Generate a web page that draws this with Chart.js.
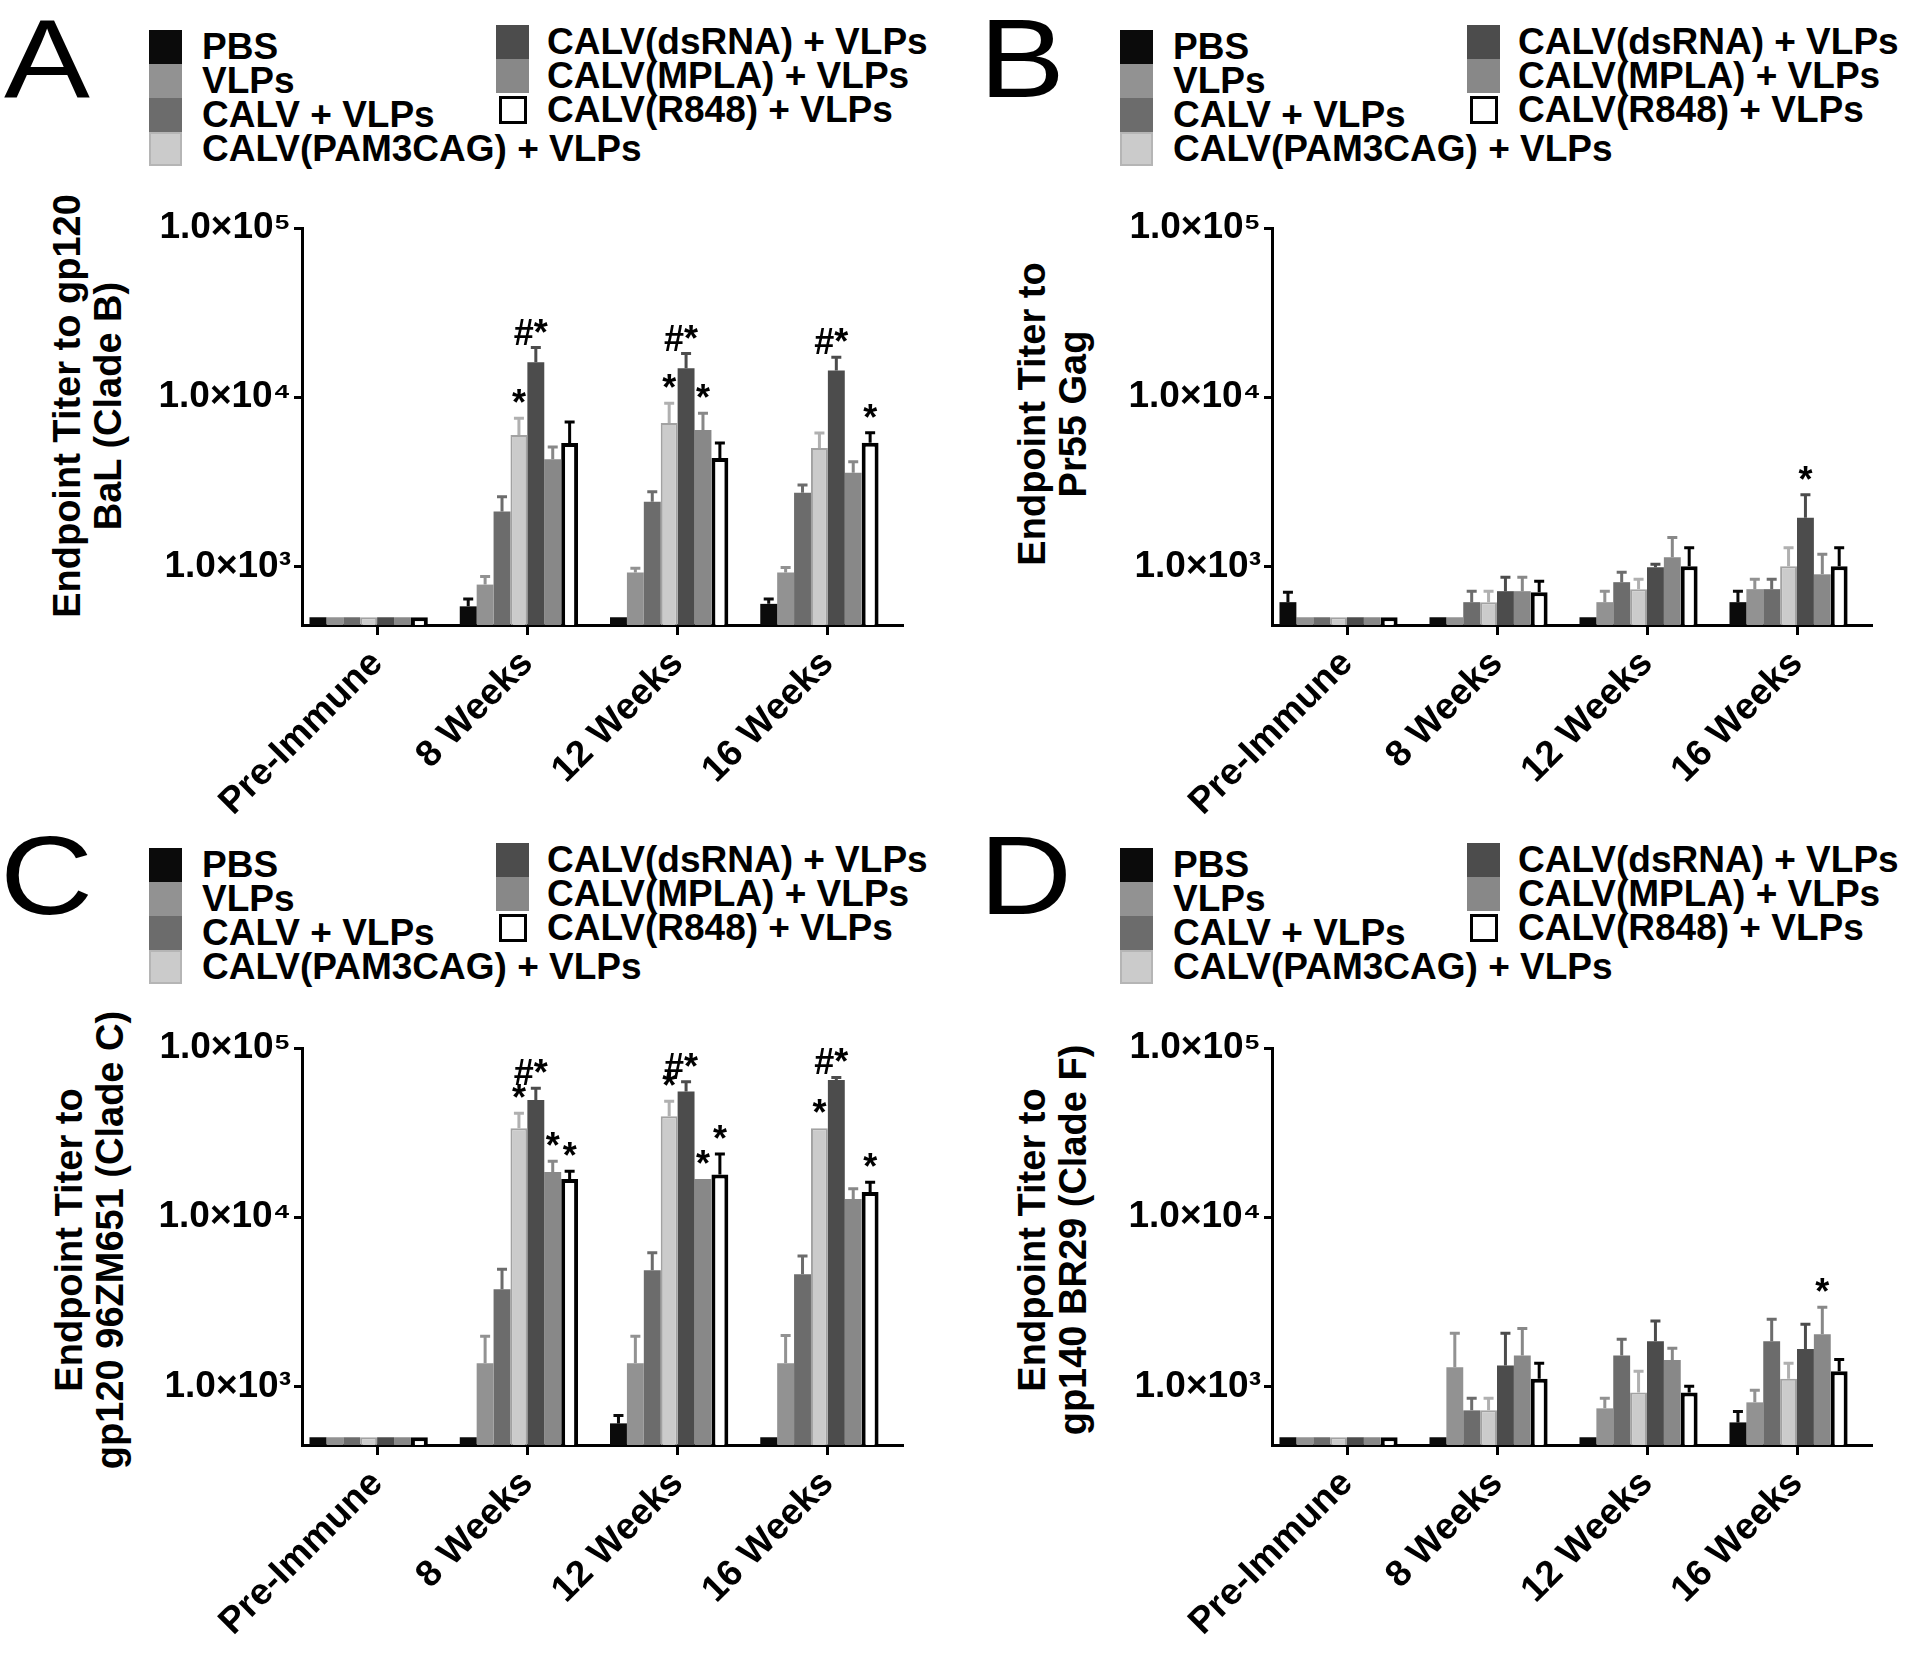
<!DOCTYPE html>
<html><head><meta charset="utf-8">
<script src="https://cdn.jsdelivr.net/npm/chart.js@4.4.1/dist/chart.umd.min.js"></script>
<style>
html,body{margin:0;padding:0;background:#fff;}
body{width:1920px;height:1657px;position:relative;overflow:hidden;font-family:"Liberation Sans",Arial,Helvetica,sans-serif;color:#000;}
.letter{position:absolute;font-size:112px;line-height:112px;font-weight:normal;transform:scaleX(1.15);transform-origin:0 0;}
.leg{position:absolute;height:34px;line-height:34px;font-size:37px;font-weight:bold;white-space:nowrap;}
.sw{position:absolute;box-sizing:border-box;}
.ytitle{position:absolute;font-size:38px;font-weight:bold;line-height:41px;text-align:center;white-space:nowrap;transform:translate(-50%,-50%) rotate(-90deg);}
.panel{position:absolute;}
</style></head>
<body>
<script>
// ---------- data ----------
const categories = ['Pre-Immune', '8 Weeks', '12 Weeks', '16 Weeks'];
const groupNames = ['PBS', 'VLPs', 'CALV + VLPs', 'CALV(PAM3CAG) + VLPs', 'CALV(dsRNA) + VLPs', 'CALV(MPLA) + VLPs', 'CALV(R848) + VLPs'];
const yTickValues = [1000, 10000, 100000];
const yTickLabels = ['1.0×10³', '1.0×10⁴', '1.0×10⁵'];
const panelLetters = ['A', 'B', 'C', 'D'];

// rows = groups (PBS ... R848), columns = categories
const meanA = [
  [500, 580, 500, 600],
  [500, 780, 920, 920],
  [500, 2110, 2410, 2720],
  [500, 5970, 7030, 5010],
  [500, 16070, 14800, 14400],
  [500, 4300, 6400, 3570],
  [500, 5360, 4370, 5370]
];
const errA = [
  [null, 640, null, 640],
  [null, 870, 975, 985],
  [null, 2580, 2760, 3030],
  [null, 7510, 9220, 6140],
  [null, 19660, 18100, 17200],
  [null, 5080, 8030, 4150],
  [null, 7130, 5360, 6160]
];
const starsA = [[1,3,'*'],[1,4,'#*'],[2,3,'*'],[2,4,'#*'],[2,5,'*'],[3,4,'#*'],[3,6,'*']];

const meanB = [
  [614, 500, 500, 614],
  [500, 500, 614, 733],
  [500, 614, 806, 733],
  [500, 614, 733, 1000],
  [500, 713, 986, 1940],
  [500, 713, 1130, 897],
  [500, 703, 1000, 1000]
];
const errB = [
  [703, null, null, 713],
  [null, null, 713, 838],
  [null, 713, 922, 838],
  [null, 713, 838, 1290],
  [null, 862, 1030, 2650],
  [null, 862, 1480, 1177],
  [null, 816, 1290, 1290]
];
const starsB = [[3,4,'*']];

const meanC = [
  [500, 500, 604, 500],
  [500, 1370, 1370, 1370],
  [500, 3750, 4850, 4600],
  [500, 33600, 39500, 33600],
  [500, 49200, 55300, 64700],
  [500, 18500, 16800, 12800],
  [500, 16800, 17900, 14100]
];
const errC = [
  [null, null, 673, null],
  [null, 1980, 1980, 2000],
  [null, 4920, 6170, 5890],
  [null, 41200, 48500, null],
  [null, 57900, 63100, 67000],
  [null, 21400, null, 14700],
  [null, 18700, 23600, 16100]
];
const starsC = [[1,3,'*'],[1,4,'#*'],[1,5,'*'],[1,6,'*'],[2,3,'*'],[2,4,'#*'],[2,5,'*'],[2,6,'*'],[3,3,'*'],[3,4,'#*'],[3,6,'*']];

const meanD = [
  [500, 500, 500, 612],
  [500, 1295, 741, 804],
  [500, 721, 1520, 1850],
  [500, 721, 920, 1110],
  [500, 1330, 1850, 1660],
  [500, 1520, 1430, 2030],
  [500, 1110, 920, 1230]
];
const errD = [
  [null, null, null, 711],
  [null, 2060, 849, 947],
  [null, 849, 1900, 2490],
  [null, 849, 1230, 1370],
  [null, 2060, 2430, 2330],
  [null, 2200, 1680, 2930],
  [null, 1370, 1000, 1440]
];
const starsD = [[3,5,'*']];

const titleA = ['Endpoint Titer to gp120', 'BaL (Clade B)'];
const titleB = ['Endpoint Titer to', 'Pr55 Gag'];
const titleC = ['Endpoint Titer to', 'gp120 96ZM651 (Clade C)'];
const titleD = ['Endpoint Titer to', 'gp140 BR29 (Clade F)'];

// ---------- styles ----------
const FONT = '"Liberation Sans", Arial, Helvetica, sans-serif';
const fills = ['#0b0b0b', '#929292', '#6c6c6c', '#cbcbcb', '#4c4c4c', '#888888', '#ffffff'];
const borders = ['#0b0b0b', '#929292', '#6c6c6c', '#a2a2a2', '#4c4c4c', '#888888', '#000000'];
const borderWidths = [0, 0, 0, 2, 0, 0, 4];
const errColors = ['#0b0b0b', '#929292', '#6c6c6c', '#b0b0b0', '#4c4c4c', '#888888', '#000000'];

const errAnnot = {
  id: 'errAnnot',
  afterDatasetsDraw(chart, args, opts) {
    const ctx = chart.ctx, y = chart.scales.y;
    chart.data.datasets.forEach((ds, i) => {
      if (!ds.errUpper) return;
      const meta = chart.getDatasetMeta(i);
      meta.data.forEach((bar, j) => {
        const e = ds.errUpper[j];
        if (e == null) return;
        const yt = y.getPixelForValue(e);
        ctx.save();
        ctx.strokeStyle = ds.errColor; ctx.lineWidth = 3; ctx.lineCap = 'butt';
        ctx.beginPath();
        ctx.moveTo(bar.x, bar.y); ctx.lineTo(bar.x, yt);
        ctx.moveTo(bar.x - 5, yt); ctx.lineTo(bar.x + 5, yt);
        ctx.stroke();
        ctx.restore();
      });
    });
    ctx.save();
    ctx.font = 'bold 36px ' + FONT;
    ctx.fillStyle = '#000';
    ctx.textAlign = 'center';
    ctx.textBaseline = 'alphabetic';
    (opts.stars || []).forEach(([cat, grp, txt]) => {
      const ds = chart.data.datasets[grp];
      const bar = chart.getDatasetMeta(grp).data[cat];
      const e = ds.errUpper[cat];
      const top = e != null ? y.getPixelForValue(e) : bar.y;
      const dx = txt.length > 1 ? -5 : 0;
      ctx.fillText(txt, bar.x + dx, top - 3);
    });
    ctx.restore();
  }
};

function addDiv(cls, css, html) {
  const d = document.createElement('div');
  d.className = cls;
  Object.assign(d.style, css);
  if (html !== undefined) d.innerHTML = html;
  document.body.appendChild(d);
  return d;
}

function buildLegend(ox, oy) {
  for (let i = 0; i < 4; i++) {
    const top = oy + 30 + i * 34;
    addDiv('sw', {left: (ox + 149) + 'px', top: top + 'px', width: '33px', height: '34px', background: fills[i],
      border: i === 3 ? '2px solid #b5b5b5' : 'none'});
    const t = addDiv('leg', {left: (ox + 202) + 'px', top: top + 'px'});
    t.textContent = groupNames[i];
  }
  for (let i = 4; i < 7; i++) {
    const top = oy + 25 + (i - 4) * 34;
    if (i === 6) {
      addDiv('sw', {left: (ox + 499) + 'px', top: (top + 3) + 'px', width: '28px', height: '28px', background: '#fff', border: '3.5px solid #000'});
    } else {
      addDiv('sw', {left: (ox + 496) + 'px', top: top + 'px', width: '33px', height: '34px', background: fills[i]});
    }
    const t = addDiv('leg', {left: (ox + 547) + 'px', top: top + 'px'});
    t.textContent = groupNames[i];
  }
}

function buildTitle(cx, cy, lines) {
  const d = addDiv('ytitle', {left: cx + 'px', top: cy + 'px'});
  d.innerHTML = lines.map(s => '<div>' + s + '</div>').join('');
}

function makeChart(left, top, width, height, plotRight, means, errs, stars) {
  const wrap = addDiv('panel', {left: left + 'px', top: top + 'px', width: width + 'px', height: height + 'px'});
  const cv = document.createElement('canvas');
  cv.width = width; cv.height = height;
  wrap.appendChild(cv);
  const datasets = groupNames.map((name, i) => ({
    label: name,
    data: means[i],
    errUpper: errs[i],
    errColor: errColors[i],
    backgroundColor: fills[i],
    borderColor: borders[i],
    borderWidth: borderWidths[i],
    borderSkipped: 'start',
    categoryPercentage: 0.9,
    barPercentage: 1.0
  }));
  // empty trailing slot (keeps GraphPad-style group offset)
  datasets.push({label: '', data: categories.map(() => null), backgroundColor: 'rgba(0,0,0,0)',
    categoryPercentage: 0.9, barPercentage: 1.0});
  const tickFont = {family: FONT, size: 37, weight: 'bold'};
  return new Chart(cv, {
    type: 'bar',
    data: {labels: categories, datasets},
    plugins: [errAnnot],
    options: {
      responsive: false,
      devicePixelRatio: 1,
      animation: false,
      layout: {padding: {top: 68, right: width - plotRight, bottom: 0, left: 0}},
      plugins: {legend: {display: false}, tooltip: {enabled: false}, errAnnot: {stars}},
      scales: {
        x: {
          type: 'category',
          offset: true,
          grid: {display: true, drawOnChartArea: false, drawTicks: true, tickLength: 10, tickWidth: 3, tickColor: '#000', offset: false},
          border: {display: true, width: 3, color: '#000'},
          ticks: {color: '#000', font: tickFont, minRotation: 45, maxRotation: 45, autoSkip: false, padding: 7},
          afterFit(s) { s.height = height - (625 - 160); }
        },
        y: {
          type: 'logarithmic',
          min: 450,
          max: 100000,
          grid: {display: true, drawOnChartArea: false, drawTicks: true, tickLength: 8, tickWidth: 3, tickColor: '#000'},
          border: {display: true, width: 3, color: '#000'},
          afterBuildTicks(s) { s.ticks = yTickValues.map(v => ({value: v})); },
          ticks: {color: '#000', font: tickFont, padding: 3,
            callback: (v) => { const k = yTickValues.indexOf(Number(v)); return k >= 0 ? yTickLabels[k] : ''; }},
          afterFit(s) { s.width = 302; }
        }
      }
    }
  });
}

addDiv('letter', {left: '4px', top: '3px'}, panelLetters[0]);
addDiv('letter', {left: '979px', top: '3px'}, panelLetters[1]);
addDiv('letter', {left: '0px', top: '820px'}, panelLetters[2]);
addDiv('letter', {left: '979px', top: '820px'}, panelLetters[3]);

buildLegend(0, 0);
buildLegend(971, 0);
buildLegend(0, 818);
buildLegend(971, 818);

buildTitle(88, 406, titleA);
buildTitle(1053, 414, titleB);
buildTitle(90, 1240, titleC);
buildTitle(1053, 1240, titleD);

makeChart(0, 160, 960, 670, 903, meanA, errA, starsA);
makeChart(970, 160, 950, 670, 1872 - 970, meanB, errB, starsB);
makeChart(0, 980, 960, 670, 903, meanC, errC, starsC);
makeChart(970, 980, 950, 670, 1872 - 970, meanD, errD, starsD);
</script>
</body></html>
